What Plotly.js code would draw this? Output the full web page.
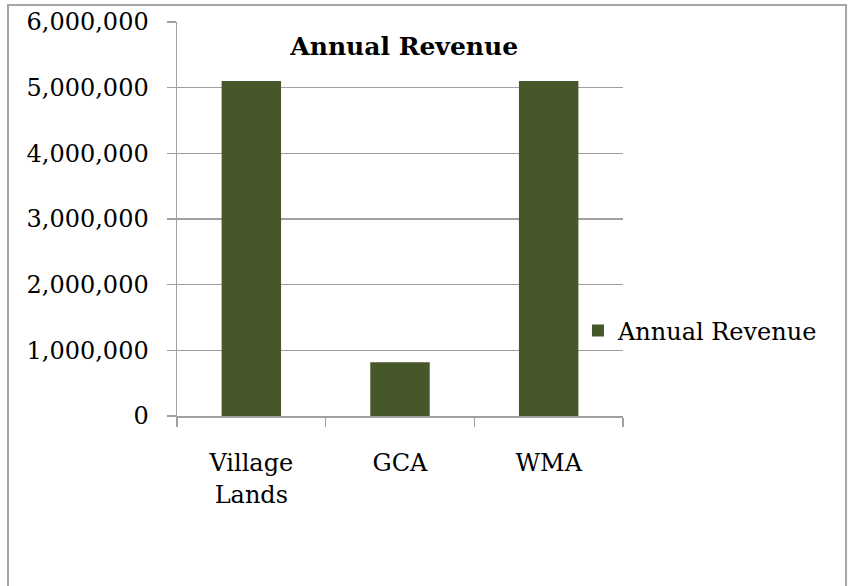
<!DOCTYPE html>
<html>
<head>
<meta charset="utf-8">
<script src="https://cdn.plot.ly/plotly-3.0.1.min.js"></script>
<style>html,body{margin:0;padding:0;background:#fff;} #chart{width:851px;height:586px;}</style>
</head>
<body>
<div id="chart"></div>
<script>
const categories = ["Village<br>Lands", "GCA", "WMA"];
const revenue = [5100000, 820000, 5100000];
const seriesName = "Annual Revenue";
const yTicks = [0, 1000000, 2000000, 3000000, 4000000, 5000000, 6000000];

const font = "DejaVu Serif, serif";
const trace = {
  type: "bar",
  x: categories,
  y: revenue,
  name: seriesName,
  marker: {color: "#46572A"},
  width: 0.4,
  hoverinfo: "none"
};

const layout = {
  width: 851, height: 586,
  margin: {l: 177, r: 228, t: 22, b: 170},
  paper_bgcolor: "#fff", plot_bgcolor: "#fff",
  font: {family: font, size: 24, color: "#000"},
  showlegend: true,
  title: {text: "<b>Annual Revenue</b>", x: 0.475, xanchor: "center", y: 0.921, yanchor: "middle",
          font: {family: font, size: 25, color: "#000"}},
  legend: {x: 0.899, xanchor: "left", y: 0.216, yanchor: "middle", bgcolor: "rgba(0,0,0,0)",
           font: {family: font, size: 24}, itemwidth: 30},
  xaxis: {
    type: "category",
    showline: true, linecolor: "#A0A0A0", linewidth: 1.5,
    ticks: "outside", tickson: "boundaries", ticklen: 9, tickcolor: "#A0A0A0", tickwidth: 1.5,
    showgrid: false, zeroline: false,
    tickfont: {family: font, size: 24},
    ticklabelstandoff: 25
  },
  yaxis: {
    range: [0, 6000000],
    tickvals: yTicks,
    tickformat: ",d",
    showline: true, linecolor: "#A0A0A0", linewidth: 1.5,
    ticks: "outside", ticklen: 9, tickcolor: "#A0A0A0", tickwidth: 1.5,
    showgrid: true, gridcolor: "#A0A0A0", gridwidth: 1.5,
    zeroline: false,
    tickfont: {family: font, size: 24},
    ticklabelstandoff: 13
  },
  shapes: [{
    type: "rect", xref: "paper", yref: "paper",
    x0: (8 - 177) / 446, x1: (846 - 177) / 446,
    y0: (416 - 600) / 394, y1: (416 - 5) / 394,
    line: {color: "#A6A6A6", width: 2}, layer: "below"
  }]
};

Plotly.newPlot("chart", [trace], layout, {displayModeBar: false, staticPlot: true});
</script>
</body>
</html>
